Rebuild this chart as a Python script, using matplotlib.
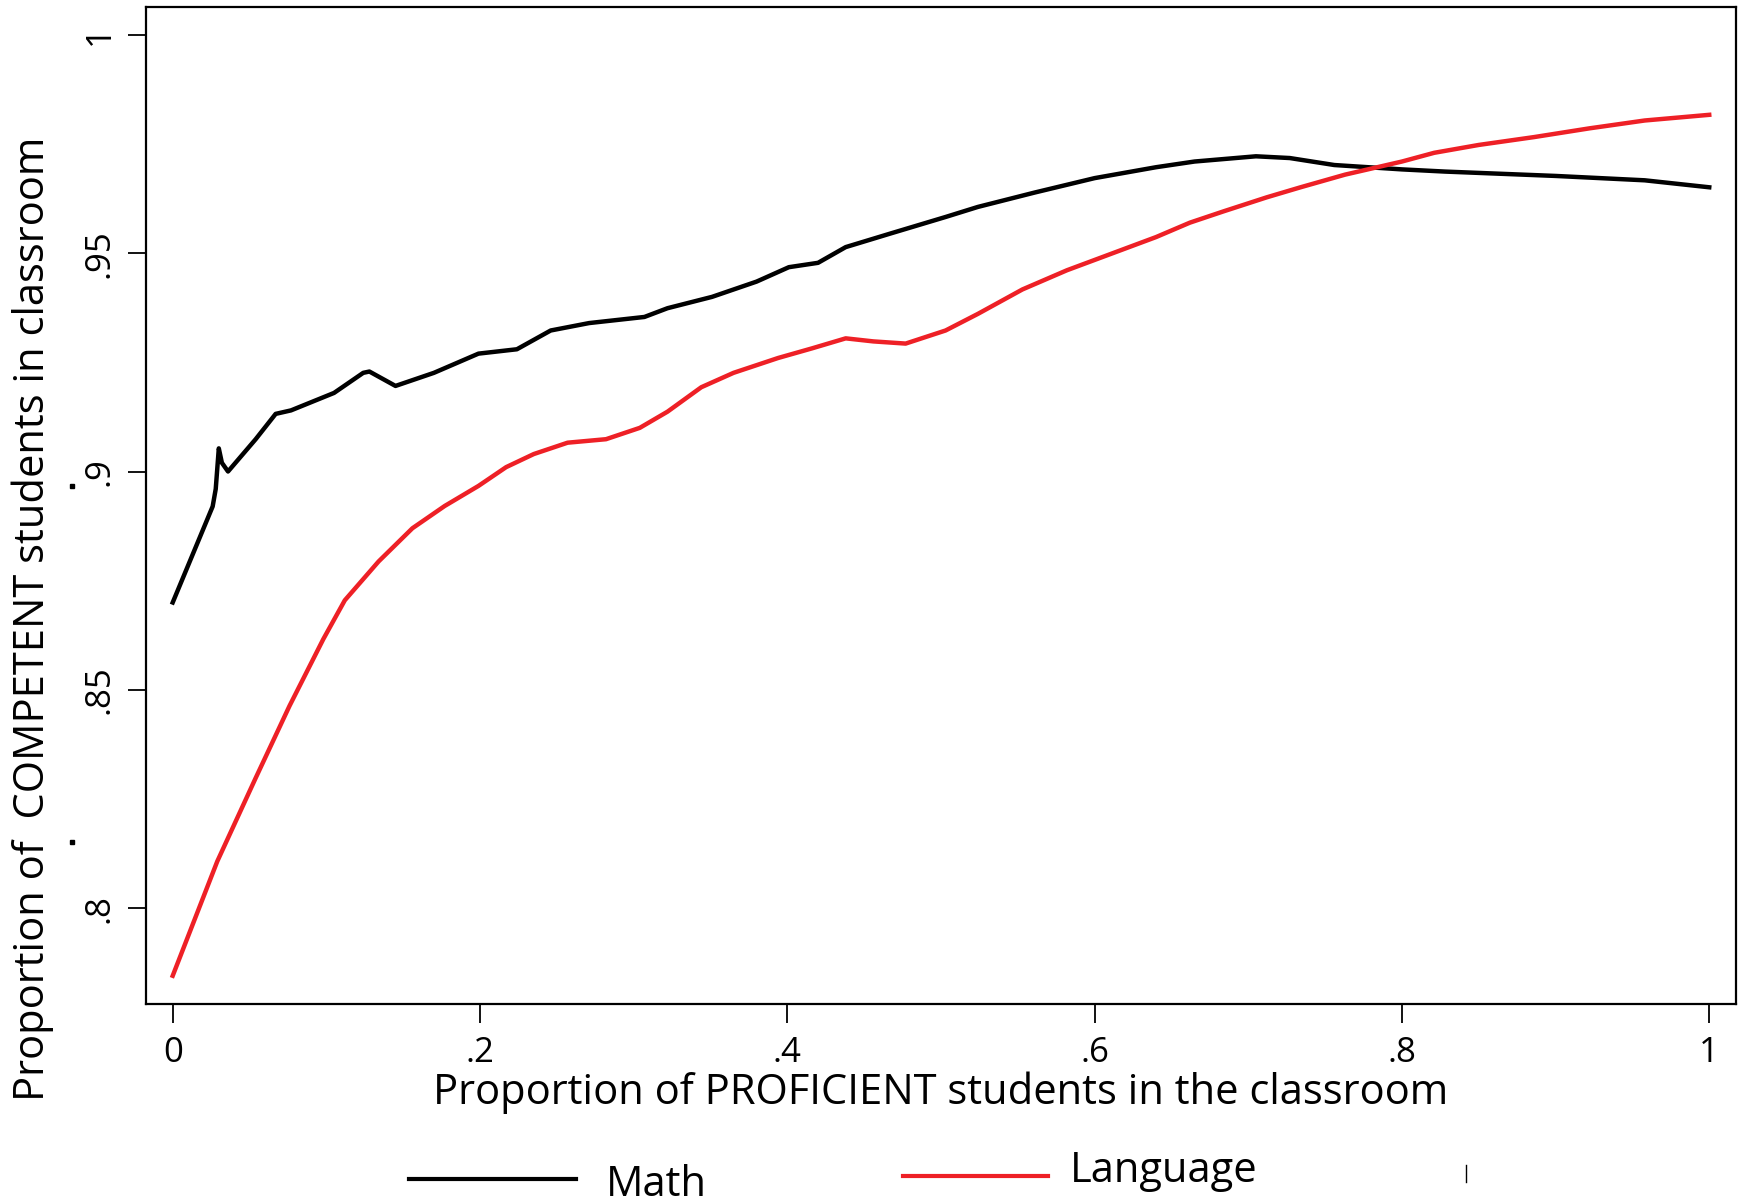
import matplotlib.pyplot as plt
from matplotlib.lines import Line2D

plt.rcParams['font.family'] = ['Open Sans', 'DejaVu Sans']

# Math (black)
math_x = [0.0, 0.026, 0.028, 0.030, 0.032, 0.036, 0.054, 0.067, 0.077, 0.105, 0.124,
          0.128, 0.145, 0.170, 0.199, 0.224, 0.246, 0.271, 0.307, 0.322, 0.351,
          0.380, 0.401, 0.420, 0.438, 0.467, 0.503, 0.524, 0.561, 0.600, 0.640,
          0.665, 0.705, 0.727, 0.756, 0.800, 0.828, 0.900, 0.958, 1.0]
math_y = [0.870, 0.892, 0.896, 0.9053, 0.902, 0.900, 0.9074, 0.9132, 0.914, 0.918, 0.9226,
          0.9229, 0.9196, 0.9226, 0.927, 0.928, 0.9323, 0.934, 0.9354, 0.9374, 0.940,
          0.9435, 0.9468, 0.9478, 0.9514, 0.9545, 0.9583, 0.9606, 0.9639, 0.9672, 0.9697,
          0.971, 0.9722, 0.9718, 0.9702, 0.9692, 0.9687, 0.9677, 0.9667, 0.9651]

# Language (red)
lang_x = [0.0, 0.029, 0.054, 0.076, 0.098, 0.112, 0.134, 0.156, 0.177, 0.199, 0.217,
          0.235, 0.257, 0.282, 0.304, 0.322, 0.344, 0.365, 0.394, 0.416, 0.438,
          0.456, 0.477, 0.503, 0.524, 0.553, 0.582, 0.611, 0.640, 0.662, 0.684,
          0.712, 0.734, 0.763, 0.800, 0.821, 0.850, 0.886, 0.922, 0.958, 1.0]
lang_y = [0.7845, 0.8107, 0.8298, 0.8463, 0.8616, 0.8705, 0.8794, 0.8870, 0.8921, 0.8967, 0.901,
          0.904, 0.9066, 0.9074, 0.910, 0.9137, 0.9193, 0.9226, 0.926, 0.9282, 0.9305,
          0.9298, 0.9293, 0.9323, 0.9361, 0.9417, 0.9461, 0.9499, 0.9537, 0.957, 0.9596,
          0.9628, 0.9651, 0.968, 0.971, 0.9730, 0.9748, 0.9766, 0.9786, 0.9804, 0.9817]

xticks = [0, 0.2, 0.4, 0.6, 0.8, 1.0]
xtick_labels = ['0', '.2', '.4', '.6', '.8', '1']
yticks = [0.8, 0.85, 0.9, 0.95, 1.0]
ytick_labels = ['.8', '.85', '.9', '.95', '1']

fig = plt.figure(figsize=(17.44, 12.04), dpi=100)
ax = fig.add_axes([0.0837, 0.166, 0.9117, 0.8282])

ax.plot(math_x, math_y, color='black', linewidth=3.2)
ax.plot(lang_x, lang_y, color='#ee2026', linewidth=3.2)

ax.set_xlim(-0.0174, 1.0174)
ax.set_ylim(0.778, 1.0064)
ax.set_xticks(xticks)
ax.set_xticklabels(xtick_labels, fontsize=25)
ax.set_yticks(yticks)
ax.set_yticklabels(ytick_labels, fontsize=25, rotation=90, va='center')
ax.tick_params(axis='x', length=14, width=1.3, pad=9)
ax.tick_params(axis='y', length=13, width=1.3, pad=8)
for s in ax.spines.values():
    s.set_linewidth(1.6)

ax.set_ylabel('Proportion of  COMPETENT students in classroom', fontsize=30)
ax.yaxis.set_label_coords(-0.058, 0.386)
ax.set_xlabel('Proportion of PROFICIENT students in the classroom', fontsize=30, labelpad=1)

# leyenda manual
fig.add_artist(Line2D([409 / 1744, 576 / 1744], [1 - 1179 / 1204] * 2, color='black', linewidth=3))
fig.text(606 / 1744, 1 - 1185 / 1204, 'Math', fontsize=30, va='center')
fig.add_artist(Line2D([903 / 1744, 1048 / 1744], [1 - 1176 / 1204] * 2, color='#ee2026', linewidth=3))
fig.text(1070 / 1744, 1 - 1171 / 1204, 'Language', fontsize=30, va='center')
fig.add_artist(Line2D([1466 / 1744] * 2, [1 - 1165 / 1204, 1 - 1182 / 1204], color='black', linewidth=1))

# puntos sueltos junto al eje y
for yy in [486, 842]:
    fig.add_artist(Line2D([72 / 1744], [1 - yy / 1204], marker='s', markersize=2.5,
                          color='black', linestyle='none'))

fig.savefig('out.png', dpi=100)
